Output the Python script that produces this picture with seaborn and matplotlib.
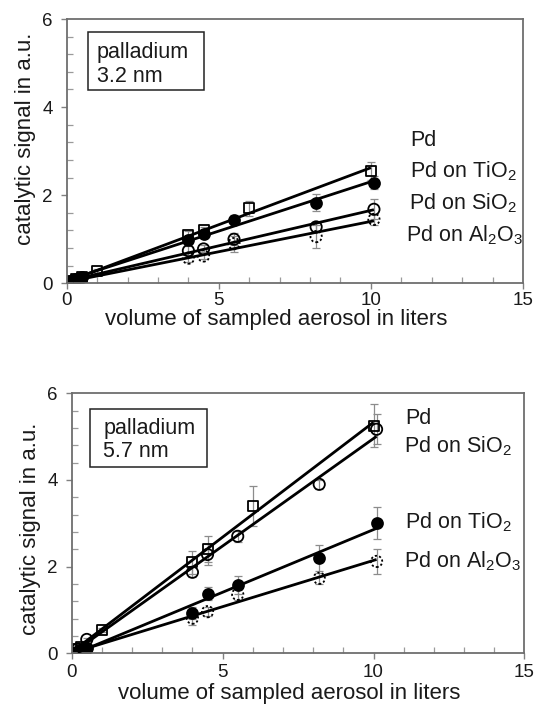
import numpy as np
import pandas as pd
import matplotlib
matplotlib.use("Agg")
import matplotlib.pyplot as plt
from matplotlib.patches import Rectangle
import seaborn as sns

sns.set_theme(style="ticks")
plt.rcParams["font.family"] = ["Liberation Sans", "DejaVu Sans"]
plt.rcParams["mathtext.fontset"] = "custom"
plt.rcParams["mathtext.rm"] = "Liberation Sans"
plt.rcParams["mathtext.it"] = "Liberation Sans"

# ---- 3.2 nm particles ----
top_pd_x = [0.1, 0.3, 0.5, 1.0, 4.0, 4.5, 6.0, 10.0]
top_pd_y = [0.05, 0.10, 0.14, 0.28, 1.10, 1.20, 1.70, 2.55]
top_pd_e = [0.02, 0.02, 0.03, 0.04, 0.08, 0.08, 0.17, 0.21]

top_ti_x = [0.2, 0.3, 0.5, 4.0, 4.5, 5.5, 8.2, 10.1]
top_ti_y = [0.07, 0.10, 0.15, 0.98, 1.13, 1.44, 1.83, 2.28]
top_ti_e = [0.02, 0.02, 0.03, 0.07, 0.07, 0.10, 0.19, 0.15]

top_si_x = [0.2, 0.3, 0.5, 4.0, 4.5, 5.5, 8.2, 10.1]
top_si_y = [0.05, 0.08, 0.12, 0.74, 0.78, 1.00, 1.28, 1.68]
top_si_e = [0.02, 0.02, 0.02, 0.10, 0.08, 0.14, 0.12, 0.23]

top_al_x = [0.2, 0.3, 0.5, 4.0, 4.5, 5.5, 8.2, 10.1]
top_al_y = [0.04, 0.07, 0.10, 0.57, 0.62, 0.90, 1.06, 1.45]
top_al_e = [0.02, 0.02, 0.02, 0.08, 0.08, 0.18, 0.27, 0.12]

# ---- 5.7 nm particles ----
bot_pd_x = [0.1, 0.3, 1.0, 4.0, 4.5, 6.0, 10.0]
bot_pd_y = [0.10, 0.15, 0.54, 2.10, 2.40, 3.40, 5.25]
bot_pd_e = [0.03, 0.03, 0.05, 0.27, 0.30, 0.46, 0.50]

bot_si_x = [0.2, 0.5, 4.0, 4.5, 5.5, 8.2, 10.1]
bot_si_y = [0.10, 0.32, 1.87, 2.28, 2.70, 3.90, 5.17]
bot_si_e = [0.03, 0.04, 0.12, 0.24, 0.12, 0.10, 0.35]

bot_ti_x = [0.2, 0.4, 0.5, 4.0, 4.5, 5.5, 8.2, 10.1]
bot_ti_y = [0.05, 0.10, 0.12, 0.93, 1.38, 1.58, 2.20, 3.00]
bot_ti_e = [0.02, 0.02, 0.03, 0.15, 0.16, 0.20, 0.30, 0.37]

bot_al_x = [0.2, 0.4, 0.5, 4.0, 4.5, 5.5, 8.2, 10.1]
bot_al_y = [0.04, 0.08, 0.10, 0.81, 0.96, 1.36, 1.73, 2.12]
bot_al_e = [0.02, 0.02, 0.02, 0.16, 0.10, 0.12, 0.12, 0.28]

label_pd = "Pd"
label_ti = r"Pd on TiO$_\mathregular{2}$"
label_si = r"Pd on SiO$_\mathregular{2}$"
label_al = r"Pd on Al$_\mathregular{2}$O$_\mathregular{3}$"

x_ticks = [0, 5, 10, 15]
y_ticks = [0, 2, 4, 6]
xlabel = "volume of sampled aerosol in liters"
ylabel = "catalytic signal in a.u."

STYLES = {
    "pd": dict(marker="s", face="none", dotted=False, s=52),
    "ti": dict(marker="o", face="black", dotted=False, s=62),
    "si": dict(marker="o", face="none", dotted=False, s=66),
    "al": dict(marker="o", face="none", dotted=True, s=66),
}

fig = plt.figure(figsize=(5.37, 7.15), dpi=100)
ax_top = fig.add_axes([0.1242, 0.6038, 0.8497, 0.3696])
ax_bot = fig.add_axes([0.1335, 0.0863, 0.8432, 0.3636])


def draw_series(ax, key, xs, ys, es):
    st = STYLES[key]
    df = pd.DataFrame({"x": xs, "y": ys})
    ax.errorbar(xs, ys, yerr=es, fmt="none", ecolor="#8c8c8c",
                elinewidth=0.9, capsize=2.6, capthick=0.9, zorder=1)
    sns.scatterplot(data=df, x="x", y="y", ax=ax, marker=st["marker"],
                    s=st["s"], color="black", facecolor=st["face"],
                    edgecolor="black", linewidth=1.3, zorder=2, legend=False)
    if st["dotted"]:
        ax.collections[-1].set_linestyle((0, (1.2, 1.2)))
    sns.regplot(data=df, x="x", y="y", ax=ax, scatter=False, ci=None,
                truncate=True, color="black",
                line_kws=dict(lw=2.0, zorder=3, solid_capstyle="butt"))


def style_axes(ax, xlab_x, xlab_y, ylab_y, xpad):
    ax.set_xlim(0, 15)
    ax.set_ylim(0, 6)
    ax.set_xticks(x_ticks)
    ax.set_yticks(y_ticks)
    ax.set_xticks(np.arange(0, 15.01, 1), minor=True)
    ax.set_yticks(np.arange(0, 6.01, 0.4), minor=True)
    ax.tick_params(which="major", direction="out", length=4, width=1.0,
                   color="#808080", labelsize=13.5, labelcolor="#1a1a1a")
    ax.tick_params(axis="y", which="major", pad=6)
    ax.tick_params(axis="x", which="major", pad=xpad)
    ax.tick_params(which="minor", direction="in", length=4, width=0.9,
                   color="#9a9a9a")
    for sp in ax.spines.values():
        sp.set_visible(True)
        sp.set_color("#6e6e6e")
        sp.set_linewidth(1.3)
    ax.set_xlabel(xlabel, fontsize=16, color="#1a1a1a")
    ax.set_ylabel(ylabel, fontsize=16, color="#1a1a1a")
    ax.xaxis.set_label_coords(xlab_x, xlab_y)
    ax.yaxis.set_label_coords(-0.068, ylab_y)
    ax.set_facecolor("white")


def info_box(ax, x0, y0, x1, y1, tx, ty1, ty2, line1, line2):
    ax.add_patch(Rectangle((x0, y0), x1 - x0, y1 - y0, transform=ax.transAxes,
                           fill=True, facecolor="white", edgecolor="#222222",
                           lw=1.1, zorder=4))
    ax.text(tx, ty1, line1, transform=ax.transAxes, fontsize=15.5,
            va="baseline", ha="left", color="#1a1a1a", zorder=5)
    ax.text(tx, ty2, line2, transform=ax.transAxes, fontsize=15.5,
            va="baseline", ha="left", color="#1a1a1a", zorder=5)


# top panel
draw_series(ax_top, "pd", top_pd_x, top_pd_y, top_pd_e)
draw_series(ax_top, "ti", top_ti_x, top_ti_y, top_ti_e)
draw_series(ax_top, "si", top_si_x, top_si_y, top_si_e)
draw_series(ax_top, "al", top_al_x, top_al_y, top_al_e)
style_axes(ax_top, 0.459, -0.098, 0.547, 2)
info_box(ax_top, 0.046, 0.731, 0.301, 0.95, 0.0657, 0.851, 0.763,
         "palladium", "3.2 nm")
for txt, yy, xx in [(label_pd, 3.12, 11.28), (label_ti, 2.41, 11.28),
                    (label_si, 1.68, 11.25), (label_al, 0.94, 11.17)]:
    ax_top.text(xx, yy, txt, fontsize=15.5, va="baseline", ha="left",
                color="#1a1a1a")

# bottom panel
draw_series(ax_bot, "pd", bot_pd_x, bot_pd_y, bot_pd_e)
draw_series(ax_bot, "si", bot_si_x, bot_si_y, bot_si_e)
draw_series(ax_bot, "ti", bot_ti_x, bot_ti_y, bot_ti_e)
draw_series(ax_bot, "al", bot_al_x, bot_al_y, bot_al_e)
style_axes(ax_bot, 0.48, -0.115, 0.478, 4)
info_box(ax_bot, 0.0404, 0.718, 0.2995, 0.938, 0.0698, 0.843, 0.754,
         "palladium", "5.7 nm")
for txt, yy, xx in [(label_pd, 5.29, 11.06), (label_si, 4.63, 11.0),
                    (label_ti, 2.88, 11.04), (label_al, 1.98, 11.0)]:
    ax_bot.text(xx, yy, txt, fontsize=15.5, va="baseline", ha="left",
                color="#1a1a1a")

fig.savefig("out.png", dpi=100, facecolor="white")
